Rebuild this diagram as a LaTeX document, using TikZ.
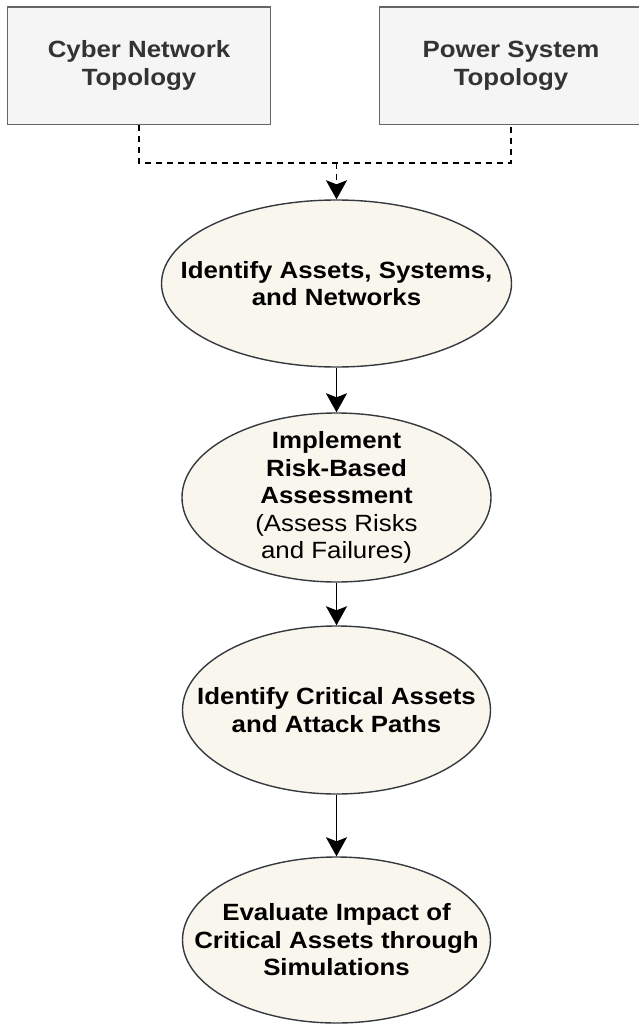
\documentclass[tikz,border=0pt]{standalone}
\usepackage{fontspec}
\setmainfont{Liberation Sans}[FakeStretch=1.1]
\usetikzlibrary{shapes.geometric,arrows.meta}

\definecolor{boxfill}{HTML}{F5F5F5}
\definecolor{boxline}{HTML}{666666}
\definecolor{boxtext}{HTML}{333333}
\definecolor{ovalfill}{HTML}{F9F7ED}
\definecolor{ovalline}{HTML}{36393D}

\begin{document}
\begin{tikzpicture}[x=1pt, y=-1pt,
		topobox/.style={draw=boxline, fill=boxfill, line width=1.4pt, minimum width=263pt, minimum height=117pt, inner sep=0pt},
		oval/.style={ellipse, draw=ovalline, fill=ovalfill, line width=1.4pt, inner sep=0pt},
		ovaltext/.style={align=center, inner sep=0pt, font=\fontsize{23.5}{27.5}\selectfont},
		tip/.style={-{Stealth[length=19pt, width=21pt, inset=4pt]}},
		flow/.style={line width=1.9pt, tip},
		linkdash/.style={line width=1.9pt, dash pattern=on 6pt off 5pt}]
		\useasboundingbox (0,0) rectangle (638,1025);
		% Topologien
		\node[topobox, text=boxtext, align=center, font=\fontsize{23.5}{27.5}\selectfont\bfseries] (cyber) at (139,65.7) {Cyber Network\\Topology};
		\node[topobox, text=boxtext, align=center, font=\fontsize{23.5}{27.5}\selectfont\bfseries] (power) at (511,65.7) {Power System\\Topology};
		% Ablaufschritte
		\node[oval, minimum width=350pt, minimum height=167pt] (assets) at (336.5,283.5) {};
		\node[ovaltext] (assetstext) at (assets) {\bfseries Identify Assets, Systems,\\\bfseries and Networks};
		\node[oval, minimum width=309pt, minimum height=169pt] (risk) at (336.5,497.5) {};
		\node[ovaltext] (risktext) at (risk) {\bfseries Implement\\\bfseries Risk-Based\\\bfseries Assessment\\(Assess Risks\\and Failures)};
		\node[oval, minimum width=308pt, minimum height=168pt] (critical) at (336.5,710) {};
		\node[ovaltext] (criticaltext) at (critical) {\bfseries Identify Critical Assets\\\bfseries and Attack Paths};
		\node[oval, minimum width=308pt, minimum height=166pt] (impact) at (336.5,940) {};
		\node[ovaltext] (impacttext) at (impact) {\bfseries Evaluate Impact of\\\bfseries Critical Assets through\\\bfseries Simulations};
		% gestrichelte Zusammenführung
		\coordinate (merge) at (336.5,162.7);
		\draw[linkdash] (cyber.south) |- (merge) -| (power.south);
		\draw[linkdash, tip] (merge) -- (assets.north);
		% Pfeile
		\draw[flow] (assets.south) -- (risk.north);
		\draw[flow] (risk.south) -- (critical.north);
		\draw[flow] (critical.south) -- (impact.north);
	\end{tikzpicture}
\end{document}
